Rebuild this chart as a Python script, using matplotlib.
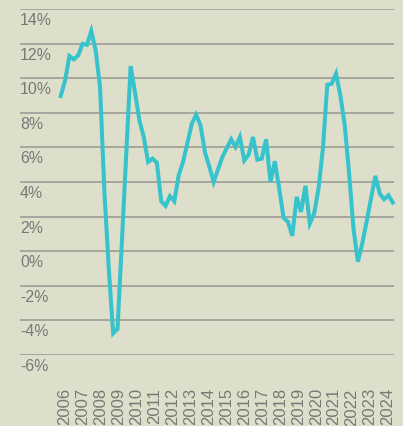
import matplotlib
matplotlib.use("Agg")
import matplotlib.pyplot as plt

# quarterly series (percent)
values = [
    8.97, 9.87, 11.28, 11.09, 11.32, 11.99, 11.93, 12.73, 11.61, 9.49,
    3.43, -1.0, -4.75, -4.50, 0.54, 5.64, 10.70, 9.2, 7.56, 6.6,
    5.16, 5.35, 5.12, 2.89, 2.62, 3.18, 2.89, 4.39, 5.16, 6.26,
    7.37, 7.89, 7.27, 5.74, 4.89, 4.0, 4.73, 5.45, 5.96, 6.47,
    6.03, 6.6, 5.25, 5.58, 6.6, 5.29, 5.35, 6.47, 4.0, 5.2,
    3.62, 1.93, 1.70, 0.89, 3.14, 2.27, 3.78, 1.6, 2.18, 3.62,
    5.93, 9.62, 9.68, 10.26, 9.0, 7.27, 4.49, 1.31, -0.61, 0.44,
    1.70, 3.04, 4.35, 3.33, 3.0, 3.23, 2.81,
]
years = [str(y) for y in range(2006, 2025)]
y_ticks = [14, 12, 10, 8, 6, 4, 2, 0, -2, -4, -6]
y_labels = [f"{v}%" for v in y_ticks]

BG = "#dedfcb"
LINE = "#36c3cc"
GRID = "#9c9c97"
TXT = "#787876"

plt.rcParams["font.family"] = ["Liberation Sans", "DejaVu Sans"]

fig = plt.figure(figsize=(4.03, 4.27), dpi=100, facecolor=BG)
ax = fig.add_axes([20 / 403, 1 - 356 / 427, 374 / 403, 346 / 427])
ax.set_facecolor(BG)

x = list(range(len(values)))
step = 4.37  # px per quarter
ax.set_xlim(-40.7 / step, 333.3 / step)
ax.set_ylim(-6, 14)

for v in y_ticks:
    ax.axhline(v, color=GRID, lw=1.2, zorder=1)

ax.plot(x, values, color=LINE, lw=2.9, solid_joinstyle="miter",
        clip_on=False, zorder=3)

for v, lab in zip(y_ticks, y_labels):
    ax.annotate(lab, xy=(0, v), xycoords=("axes fraction", "data"),
                xytext=(0, -10.8), textcoords="offset points",
                ha="left", va="baseline", fontsize=11.4, color=TXT)

tick_pos = [4.3 / step + i * 17.94 / step for i in range(len(years))]
ax.set_yticks([])
ax.set_xticks(tick_pos)
ax.set_xticklabels(years, rotation=90, fontsize=12, color=TXT,
                   va="top", ha="center")
ax.tick_params(axis="x", length=0, pad=23.2)

for s in ax.spines.values():
    s.set_visible(False)

fig.savefig("out.png", dpi=100, facecolor=BG)
